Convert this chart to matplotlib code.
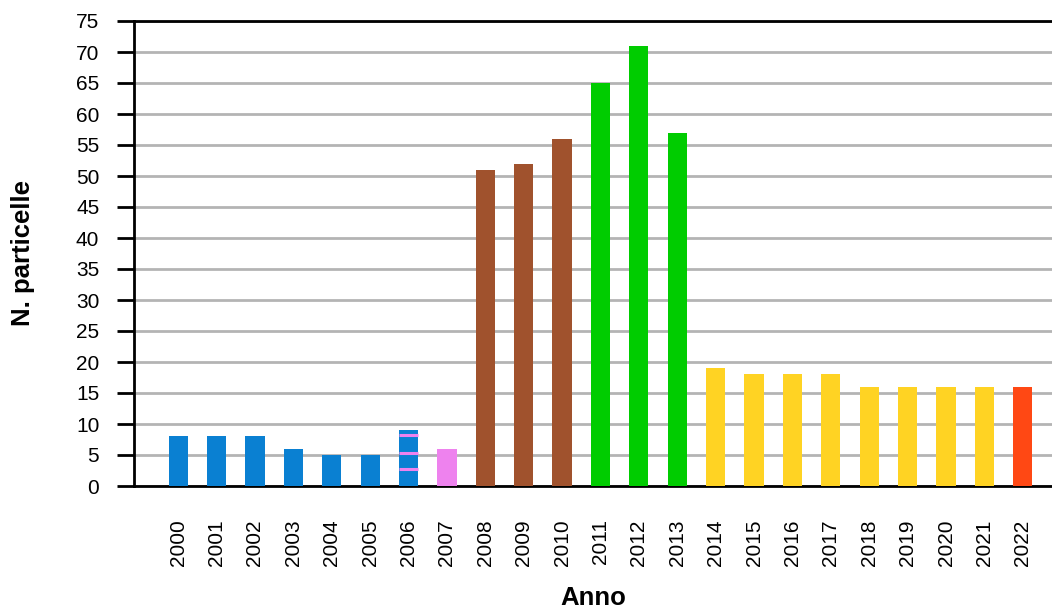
import matplotlib.pyplot as plt

plt.rcParams['font.family'] = ['Liberation Sans', 'DejaVu Sans']

# Number of parcels per year
anni = ['2000', '2001', '2002', '2003', '2004', '2005', '2006', '2007',
        '2008', '2009', '2010', '2011', '2012', '2013', '2014', '2015',
        '2016', '2017', '2018', '2019', '2020', '2021', '2022']
particelle = [8, 8, 8, 6, 5, 5, 9, 6, 51, 52, 56, 65, 71, 57,
              19, 18, 18, 18, 16, 16, 16, 16, 16]

# colour groups by period
blu = '#0a80d2'
rosa = '#ee82ee'
marrone = '#a0522d'
verde = '#00cc00'
giallo = '#ffd323'
rosso = '#ff4814'
colori = [blu] * 7 + [rosa] + [marrone] * 3 + [verde] * 3 + [giallo] * 8 + [rosso]

# pink stripes inside the 2006 bar
strisce_2006 = [2.8, 5.4, 8.2]

fig = plt.figure(figsize=(10.52, 6.10), dpi=100)
ax = fig.add_axes([134 / 1052, 1 - 486 / 610, 1 - 134 / 1052, (486 - 21) / 610])

x = list(range(len(anni)))
ax.bar(x, particelle, width=0.5, color=colori, zorder=3)

i = anni.index('2006')
ax.hlines(strisce_2006, i - 0.25, i + 0.25, colors=rosa, linewidth=2.2, zorder=4)

ax.set_xlim(-1.15, 22.76)
ax.set_ylim(0, 75)
ax.set_yticks(range(0, 76, 5))
ax.set_xticks(x)
ax.set_xticklabels(anni, rotation=90)

ax.grid(axis='y', color='#b4b4b4', linewidth=2, zorder=0)
ax.tick_params(axis='y', length=12, width=2, pad=13, labelsize=15)
ax.tick_params(axis='x', length=0, pad=24, labelsize=15)

ax.spines['right'].set_visible(False)
for side in ['left', 'bottom', 'top']:
    ax.spines[side].set_linewidth(2)

ax.set_ylabel('N. particelle', fontsize=18.5, fontweight='bold')
ax.set_xlabel('Anno', fontsize=18.5, fontweight='bold', labelpad=14)
ax.yaxis.set_label_coords((35 - 134) / 918, 0.5)

fig.savefig('out.png', dpi=100)
